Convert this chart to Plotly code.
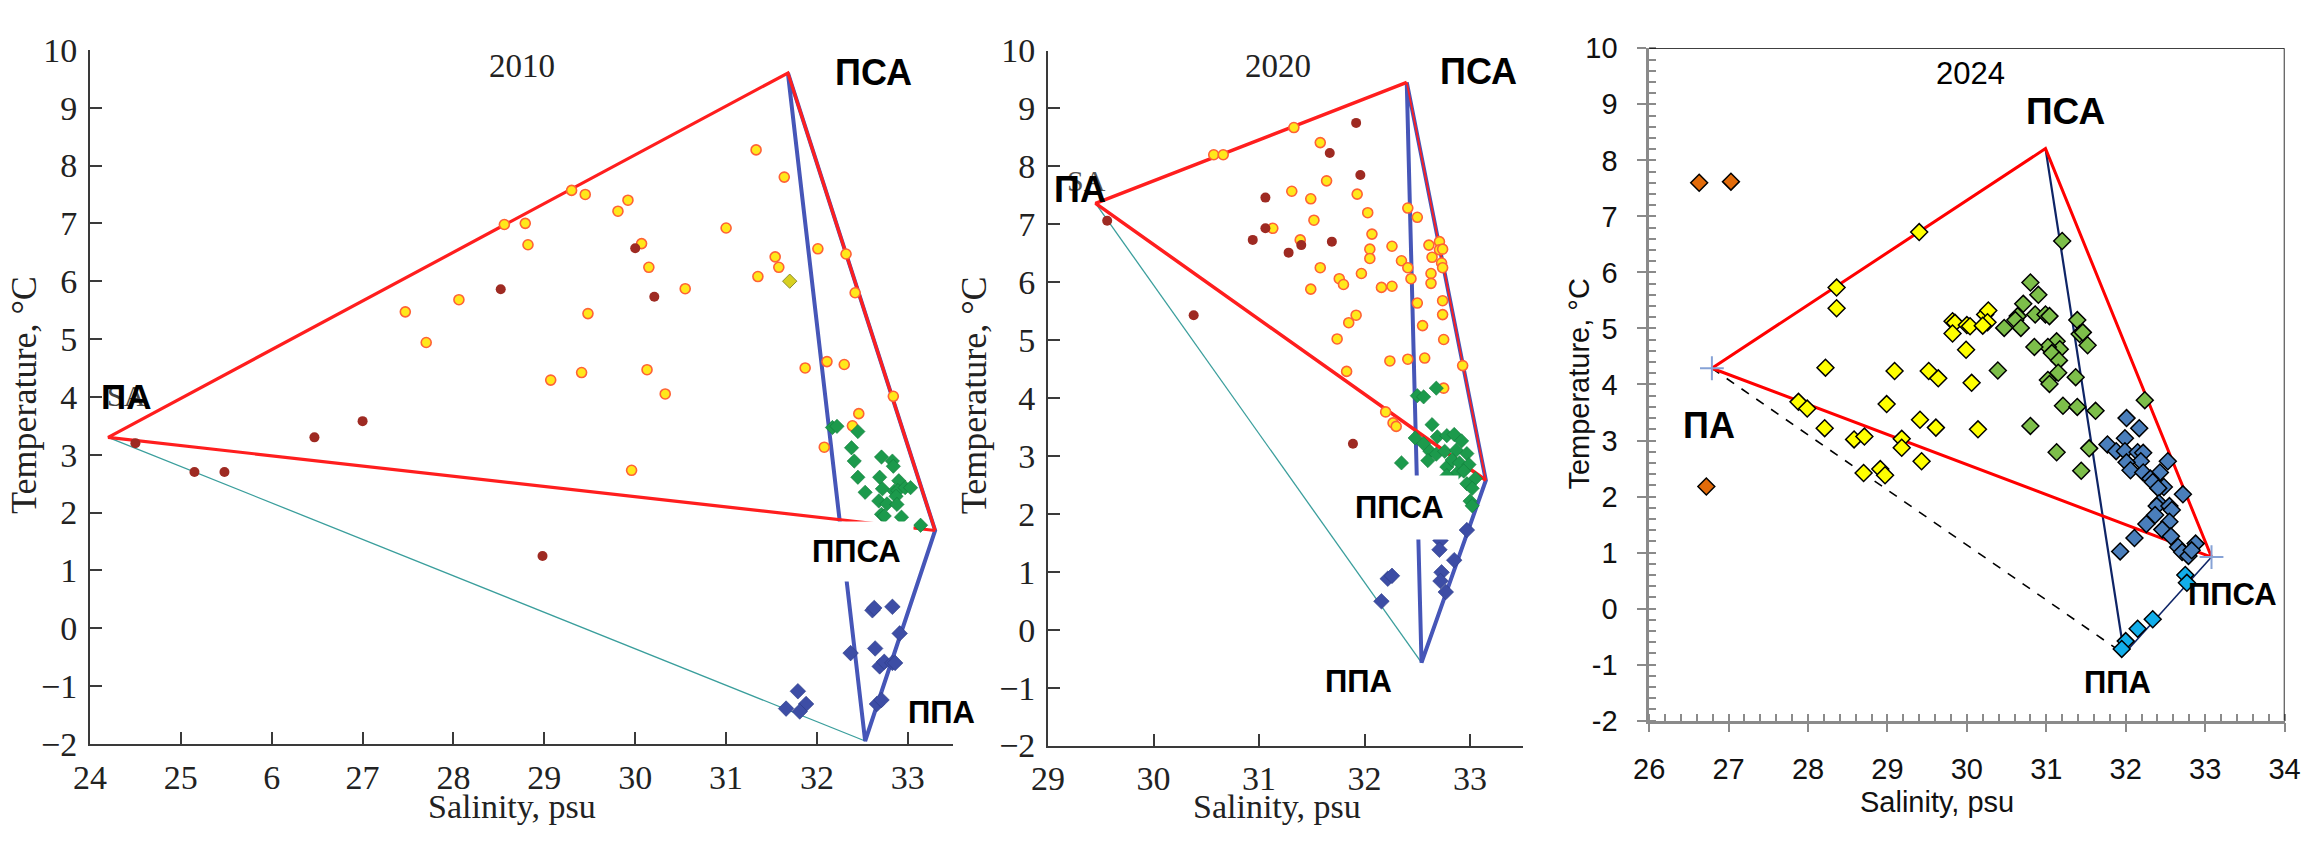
import plotly.graph_objects as go

# ---------------- DATA ----------------
# Panel 2010: vertices PA, PSA, PPSA, PPA
p1_vert_sal = [24.2, 31.68, 33.30, 32.53]
p1_vert_temp = [3.30, 9.60, 1.69, -1.95]
p1_yellow_sal = [28.56, 28.79, 28.82, 29.30, 29.45, 29.81, 29.92, 30.07, 30.15, 31.00, 31.33, 31.64,
                 31.54, 31.58, 31.35, 30.55, 29.48, 27.47, 27.70, 28.06, 29.07, 29.41, 30.13, 30.33,
                 32.01, 32.32, 32.42, 31.87, 32.11, 32.30, 32.84, 32.46, 29.96, 32.39, 32.08]
p1_yellow_temp = [6.98, 7.00, 6.63, 7.57, 7.50, 7.21, 7.40, 6.65, 6.24, 6.92, 8.27, 7.80,
                  6.42, 6.24, 6.08, 5.87, 5.44, 5.47, 4.94, 5.68, 4.29, 4.42, 4.47, 4.05,
                  6.56, 6.47, 5.80, 4.50, 4.61, 4.56, 4.01, 3.71, 2.73, 3.50, 3.13]
p1_olive_sal = [31.70]
p1_olive_temp = [6.00]
p1_darkred_sal = [28.52, 30.00, 30.21, 27.00, 24.50, 25.15, 25.48, 26.47, 28.98]
p1_darkred_temp = [5.86, 6.57, 5.73, 3.58, 3.20, 2.70, 2.70, 3.30, 1.25]
p1_green_sal = [32.17, 32.22, 32.45, 32.38, 32.41, 32.45, 32.53, 32.71, 32.83, 32.84, 32.69, 32.90, 32.72,
                32.85, 32.89, 32.97, 33.03, 32.87, 32.68, 32.77, 32.88, 32.71, 32.74, 32.93, 33.14]
p1_green_temp = [3.47, 3.49, 3.40, 3.12, 2.89, 2.61, 2.35, 2.96, 2.89, 2.80, 2.61, 2.55, 2.41,
                 2.37, 2.38, 2.43, 2.43, 2.28, 2.20, 2.15, 2.14, 1.97, 1.94, 1.92, 1.78]
p1_blue_sal = [32.61, 32.63, 32.83, 32.91, 32.37, 32.64, 32.69, 32.74, 32.83, 32.86, 31.79, 31.88, 31.66,
               31.81, 32.66, 32.71]
p1_blue_temp = [0.31, 0.35, 0.37, -0.09, -0.43, -0.35, -0.66, -0.58, -0.60, -0.60, -1.09, -1.31, -1.39,
                -1.44, -1.31, -1.24]
p1_xticks = [24, 25, 26, 27, 28, 29, 30, 31, 32, 33]
p1_xticklabels = ["24", "25", "6", "27", "28", "29", "30", "31", "32", "33"]

# Panel 2020
p2_vert_sal = [29.45, 32.40, 33.15, 32.54]
p2_vert_temp = [7.36, 9.45, 2.58, -0.57]
p2_yellow_sal = [30.57, 30.66, 31.33, 31.58, 31.64, 31.31, 31.49, 31.93, 32.03, 31.52, 31.13, 31.39, 32.07,
                 32.05, 32.05, 32.26, 32.35, 32.41, 32.44, 31.97, 31.58, 31.76, 31.80, 31.49, 32.16, 32.26,
                 32.50, 32.55, 31.85, 31.92, 31.74, 31.83, 32.24, 32.41, 32.57, 32.41, 32.50, 32.61, 32.71,
                 32.71, 32.74, 32.64, 32.73, 32.74, 32.63, 32.63, 32.74, 32.74, 32.75, 32.93, 32.75, 32.20,
                 32.27, 32.30]
p2_yellow_temp = [8.20, 8.20, 8.67, 8.41, 7.75, 7.57, 7.44, 7.52, 7.20, 7.07, 6.93, 6.73, 6.83,
                  6.57, 6.41, 6.62, 6.37, 6.25, 6.06, 6.15, 6.25, 6.06, 5.96, 5.88, 5.91, 5.93,
                  5.64, 5.25, 5.30, 5.43, 5.02, 4.46, 4.64, 4.67, 4.69, 7.28, 7.12, 6.64, 6.70,
                  6.56, 6.57, 6.43, 6.33, 6.25, 6.15, 5.98, 5.68, 5.44, 5.01, 4.56, 4.17, 3.76,
                  3.57, 3.51]
p2_darkred_sal = [31.92, 31.67, 31.96, 31.06, 31.06, 30.94, 31.69, 31.40, 31.28, 30.38, 29.56, 31.89]
p2_darkred_temp = [8.75, 8.23, 7.85, 7.46, 6.93, 6.73, 6.70, 6.64, 6.51, 5.43, 7.06, 3.21]
p2_green_sal = [32.50, 32.56, 32.68, 32.64, 32.48, 32.56, 32.69, 32.78, 32.85, 32.92, 32.62, 32.68, 32.76,
                32.87, 32.97, 32.35, 32.60, 32.78, 32.83, 32.90, 32.99, 32.87, 32.94, 33.05, 32.97, 33.02,
                33.00, 33.02, 32.78]
p2_green_temp = [4.04, 4.02, 4.17, 3.54, 3.31, 3.21, 3.33, 3.35, 3.37, 3.26, 3.08, 3.03, 3.08,
                 3.10, 3.04, 2.88, 2.92, 2.81, 2.93, 2.88, 2.85, 2.69, 2.74, 2.61, 2.52, 2.44,
                 2.22, 2.14, 2.66]
p2_blue_sal = [32.97, 32.72, 32.71, 32.85, 32.73, 32.72, 32.77, 32.22, 32.26, 32.16]
p2_blue_temp = [1.72, 1.54, 1.38, 1.20, 0.99, 0.84, 0.65, 0.88, 0.93, 0.49]
p2_xticks = [29, 30, 31, 32, 33]
p2_xticklabels = ["29", "30", "31", "32", "33"]

yticks_12 = [-2, -1, 0, 1, 2, 3, 4, 5, 6, 7, 8, 9, 10]
yticklabels_12 = ["\u22122", "\u22121", "0", "1", "2", "3", "4", "5", "6", "7", "8", "9", "10"]

# Panel 2024
p3_vert_sal = [26.79, 30.99, 33.08, 31.98]
p3_vert_temp = [4.29, 8.21, 0.92, -0.81]
p3_orange_sal = [26.63, 27.03, 26.72]
p3_orange_temp = [7.60, 7.62, 2.18]
p3_yellow_sal = [29.40, 28.36, 28.36, 28.22, 29.09, 29.52, 27.88, 27.99, 28.21, 28.99, 29.41, 28.58, 28.71,
                 29.18, 29.18, 29.43, 28.70, 28.91, 28.97, 29.82, 29.85, 30.00, 30.04, 29.82, 30.23, 30.27,
                 30.26, 30.20, 29.99, 29.64, 30.06, 29.61, 30.14]
p3_yellow_temp = [6.72, 5.73, 5.36, 4.30, 4.24, 4.24, 3.69, 3.57, 3.22, 3.65, 3.37, 3.02, 3.07,
                  3.03, 2.87, 2.63, 2.42, 2.49, 2.38, 5.13, 5.10, 5.06, 5.04, 4.91, 5.25, 5.32,
                  5.11, 5.05, 4.62, 4.11, 4.03, 3.23, 3.20]
p3_green_sal = [31.20, 30.80, 30.90, 30.71, 30.64, 30.61, 30.68, 30.86, 30.99, 31.04, 30.47, 31.39, 31.42,
                31.46, 31.52, 31.13, 31.17, 31.02, 31.07, 30.85, 31.16, 30.39, 31.15, 31.02, 31.04, 31.37,
                31.21, 31.39, 31.62, 32.24, 30.80, 31.13, 31.54, 31.44]
p3_green_temp = [6.56, 5.82, 5.60, 5.44, 5.22, 5.15, 5.01, 5.25, 5.25, 5.22, 5.01, 5.15, 4.90,
                 4.93, 4.70, 4.77, 4.63, 4.67, 4.56, 4.67, 4.43, 4.25, 4.21, 4.08, 4.01, 4.13,
                 3.62, 3.60, 3.53, 3.72, 3.26, 2.79, 2.86, 2.46]
p3_steel_sal = [32.01, 32.17, 31.99, 31.77, 31.88, 31.99, 32.15, 32.22, 32.19, 32.01, 32.06, 32.22, 32.53,
                32.43, 32.31, 32.34, 32.48, 32.41, 32.72, 32.42, 32.39, 32.55, 32.58, 32.37, 32.55, 32.26,
                32.46, 32.57, 32.11, 32.66, 32.88, 32.71, 32.79, 32.83, 31.93]
p3_steel_temp = [3.40, 3.22, 3.04, 2.93, 2.81, 2.81, 2.79, 2.78, 2.63, 2.61, 2.47, 2.43, 2.63,
                 2.43, 2.32, 2.26, 2.17, 2.15, 2.04, 1.88, 1.83, 1.83, 1.76, 1.67, 1.55, 1.51,
                 1.41, 1.29, 1.26, 1.10, 1.16, 1.01, 0.94, 1.04, 1.02]
p3_light_sal = [32.75, 32.77, 32.34, 32.15, 32.00, 31.95]
p3_light_temp = [0.60, 0.46, -0.19, -0.36, -0.58, -0.72]
p3_xticks = [26, 27, 28, 29, 30, 31, 32, 33, 34]
p3_xticklabels = ["26", "27", "28", "29", "30", "31", "32", "33", "34"]
p3_yticklabels = ["-2", "-1", "0", "1", "2", "3", "4", "5", "6", "7", "8", "9", "10"]

labels_water = ["ПА", "ПСА", "ППСА", "ППА"]

# ---------------- FIGURE ----------------
fig = go.Figure()
SERIF = "Liberation Serif"
SANS = "Liberation Sans"


def seg(vs, vt, idx):
    return [vs[i] for i in idx], [vt[i] for i in idx]


def line(xa, ya, vs, vt, idx, color, width, dash="solid"):
    x, y = seg(vs, vt, idx)
    fig.add_trace(go.Scatter(x=x, y=y, mode="lines", xaxis=xa, yaxis=ya, showlegend=False,
                             hoverinfo="skip", line=dict(color=color, width=width, dash=dash)))


def pts(xa, ya, xs, ys, symbol, size, color, lcolor, lwidth):
    fig.add_trace(go.Scatter(x=xs, y=ys, mode="markers", xaxis=xa, yaxis=ya, showlegend=False,
                             marker=dict(symbol=symbol, size=size, color=color,
                                         line=dict(color=lcolor, width=lwidth))))


RED = "#FF1E1E"
BLUE = "#4656B8"
TEAL = "#3A9E9C"

# panel 1 lines
line("x", "y", p1_vert_sal, p1_vert_temp, [0, 3], TEAL, 1.3)
line("x", "y", p1_vert_sal, p1_vert_temp, [1, 2, 3, 1], BLUE, 4)
line("x", "y", p1_vert_sal, p1_vert_temp, [2, 0, 1, 2], RED, 3.2)
pts("x", "y", p1_yellow_sal, p1_yellow_temp, "circle", 10, "#FFE81A", "#FF6236", 1.6)
pts("x", "y", p1_olive_sal, p1_olive_temp, "diamond", 11, "#D8D020", "#8A8A30", 1)
pts("x", "y", p1_darkred_sal, p1_darkred_temp, "circle", 10, "#9E2A22", "#9E2A22", 0)
pts("x", "y", p1_green_sal, p1_green_temp, "diamond", 11, "#1C9A4C", "#137a3a", 0.6)
pts("x", "y", p1_blue_sal, p1_blue_temp, "diamond", 12, "#3D4DA5", "#2c3a85", 0.6)

# panel 2 lines
line("x2", "y2", p2_vert_sal, p2_vert_temp, [0, 3], TEAL, 1.3)
line("x2", "y2", p2_vert_sal, p2_vert_temp, [1, 2, 3, 1], BLUE, 4)
line("x2", "y2", p2_vert_sal, p2_vert_temp, [2, 0, 1], RED, 3.5)
line("x2", "y2", p2_vert_sal, p2_vert_temp, [1, 2], RED, 1.8)
pts("x2", "y2", p2_yellow_sal, p2_yellow_temp, "circle", 10, "#FFE81A", "#FF6236", 1.6)
pts("x2", "y2", p2_darkred_sal, p2_darkred_temp, "circle", 10, "#9E2A22", "#9E2A22", 0)
pts("x2", "y2", p2_green_sal, p2_green_temp, "diamond", 11, "#1C9A4C", "#137a3a", 0.6)
pts("x2", "y2", p2_blue_sal, p2_blue_temp, "diamond", 12, "#3D4DA5", "#2c3a85", 0.6)

# panel 3 lines
line("x3", "y3", p3_vert_sal, p3_vert_temp, [0, 3], "#000000", 1.6, "dash")
line("x3", "y3", p3_vert_sal, p3_vert_temp, [1, 3], "#0E2466", 2.2)
line("x3", "y3", p3_vert_sal, p3_vert_temp, [3, 2], "#0E2466", 1.6)
line("x3", "y3", p3_vert_sal, p3_vert_temp, [2, 0, 1, 2], "#FF0000", 3)
pts("x3", "y3", p3_orange_sal, p3_orange_temp, "diamond", 13, "#E26B0A", "#000000", 1.5)
pts("x3", "y3", p3_yellow_sal, p3_yellow_temp, "diamond", 13, "#FFFF00", "#000000", 1.5)
pts("x3", "y3", p3_green_sal, p3_green_temp, "diamond", 13, "#7DBE4A", "#000000", 1.5)
pts("x3", "y3", p3_steel_sal, p3_steel_temp, "diamond", 13, "#4A7EBB", "#000000", 1.5)
pts("x3", "y3", p3_light_sal, p3_light_temp, "diamond", 13, "#12AEEA", "#000000", 1.5)
fig.add_trace(go.Scatter(x=[p3_vert_sal[0], p3_vert_sal[2]], y=[p3_vert_temp[0], p3_vert_temp[2]],
                         mode="markers", xaxis="x3", yaxis="y3", showlegend=False,
                         marker=dict(symbol="cross-thin", size=17, line=dict(color="#86A2D6", width=2))))

# ---------------- AXES ----------------
AX1 = "#3A3A3A"
common12 = dict(showgrid=False, zeroline=False, showline=True, linecolor=AX1, linewidth=2,
                ticks="inside", tickcolor=AX1, tickwidth=2, ticklen=12,
                tickfont=dict(family=SERIF, size=34, color="#222"))
layout = dict(
    width=2320, height=841, margin=dict(l=0, r=0, t=0, b=0),
    paper_bgcolor="white", plot_bgcolor="white", showlegend=False,
    xaxis=dict(domain=[0.03190, 0.40940], range=[24, 33.5], anchor="y",
               tickvals=p1_xticks, ticktext=p1_xticklabels, ticklabelstandoff=2, **common12),
    yaxis=dict(domain=[0.09715, 0.96040], range=[-2, 10], anchor="x",
               tickvals=yticks_12, ticktext=yticklabels_12, ticklabelstandoff=4, **common12),
    xaxis2=dict(domain=[0.45086, 0.65841], range=[29, 33.5], anchor="y2",
                tickvals=p2_xticks, ticktext=p2_xticklabels, ticklabelstandoff=2, **common12),
    yaxis2=dict(domain=[0.09512, 0.95957], range=[-2, 10], anchor="x2",
                tickvals=yticks_12, ticktext=yticklabels_12, ticklabelstandoff=4, **common12),
    xaxis3=dict(domain=[0.71366, 0.99151], range=[26, 34], anchor="y3",
                showgrid=False, zeroline=False, showline=True, linecolor="#8A8A8A", linewidth=2.5,
                ticks="outside", tickcolor="#8A8A8A", tickwidth=2, ticklen=9,
                tickvals=p3_xticks, ticktext=p3_xticklabels, ticklabelstandoff=12,
                minor=dict(ticks="inside", dtick=0.2, ticklen=7, tickcolor="#8A8A8A", tickwidth=1.5),
                tickfont=dict(family=SANS, size=29, color="#111")),
    yaxis3=dict(domain=[0.12604, 0.96231], range=[-2, 10], anchor="x3",
                showgrid=False, zeroline=False, showline=True, linecolor="#8A8A8A", linewidth=2.5,
                ticks="outside", tickcolor="#8A8A8A", tickwidth=2, ticklen=9,
                tickvals=yticks_12, ticktext=p3_yticklabels, ticklabelstandoff=14,
                minor=dict(ticks="inside", dtick=0.2, ticklen=7, tickcolor="#8A8A8A", tickwidth=1.5),
                tickfont=dict(family=SANS, size=29, color="#111")),
)
fig.update_layout(**layout)

# frame lines top/right of panel 3
fig.add_shape(type="line", xref="x3", yref="y3", x0=26, x1=34, y0=10, y1=10,
              line=dict(color="#000", width=1.6))
fig.add_shape(type="line", xref="x3", yref="y3", x0=34, x1=34, y0=10, y1=-2,
              line=dict(color="#000", width=1.6))

ann = []


def txt(xr, yr, x, y, text, family, size, bold=False, color="#000", bg=None, pad=0, angle=0,
        xanchor="center"):
    d = dict(xref=xr, yref=yr, x=x, y=y, text=("<b>%s</b>" % text) if bold else text, showarrow=False,
             font=dict(family=family, size=size, color=color), xanchor=xanchor, yanchor="middle",
             textangle=angle)
    if bg:
        d.update(bgcolor=bg, borderpad=pad)
    ann.append(d)


# panel 1 texts
txt("x", "y", 28.75, 9.72, "2010", SERIF, 33, color="#222")
txt("x", "y", 24.40, 4.02, "SA", SERIF, 30, color="#444")
txt("x", "y", 24.40, 4.00, labels_water[0], SANS, 35, bold=True)
txt("x", "y", 32.62, 9.61, labels_water[1], SANS, 36, bold=True)
txt("x", "y", 32.44, 1.32, labels_water[2], SANS, 31, bold=True, bg="white", pad=12)
txt("x", "y", 33.37, -1.45, labels_water[3], SANS, 31, bold=True)
# panel 2 texts
txt("x2", "y2", 31.18, 9.74, "2020", SERIF, 33, color="#222")
txt("x2", "y2", 29.36, 7.76, "SA", SERIF, 30, color="#555")
txt("x2", "y2", 29.30, 7.60, labels_water[0], SANS, 36, bold=True)
txt("x2", "y2", 33.08, 9.63, labels_water[1], SANS, 36, bold=True)
txt("x2", "y2", 32.33, 2.11, labels_water[2], SANS, 31, bold=True, bg="white", pad=14)
txt("x2", "y2", 31.94, -0.90, labels_water[3], SANS, 31, bold=True, bg="white", pad=4)
# panel 3 texts
txt("x3", "y3", 30.04, 9.55, "2024", SANS, 31)
txt("x3", "y3", 26.75, 3.26, labels_water[0], SANS, 36, bold=True)
txt("x3", "y3", 31.24, 8.87, labels_water[1], SANS, 37, bold=True)
txt("x3", "y3", 33.35, 0.26, labels_water[2], SANS, 31, bold=True)
txt("x3", "y3", 31.90, -1.32, labels_water[3], SANS, 31, bold=True)

# axis titles
txt("paper", "paper", 0.2164, 0.0190, "Salinity, psu", SERIF, 34, color="#222")
txt("paper", "paper", 0.5509, 0.0190, "Salinity, psu", SERIF, 34, color="#222")
txt("paper", "paper", 0.8397, 0.0250, "Salinity, psu", SANS, 29, color="#111")
txt("paper", "paper", 0.0030, 0.531, "Temperature, °C", SERIF, 36, color="#222", angle=-90)
txt("paper", "paper", 0.4185, 0.531, "Temperature, °C", SERIF, 36, color="#222", angle=-90)
txt("paper", "paper", 0.6832, 0.5446, "Temperature, °C", SANS, 29, color="#111", angle=-90)

fig.update_layout(annotations=ann)
fig.write_html("out.html", config={"displayModeBar": False},
               post_script="document.body.style.margin='0';document.body.style.overflow='hidden';")
